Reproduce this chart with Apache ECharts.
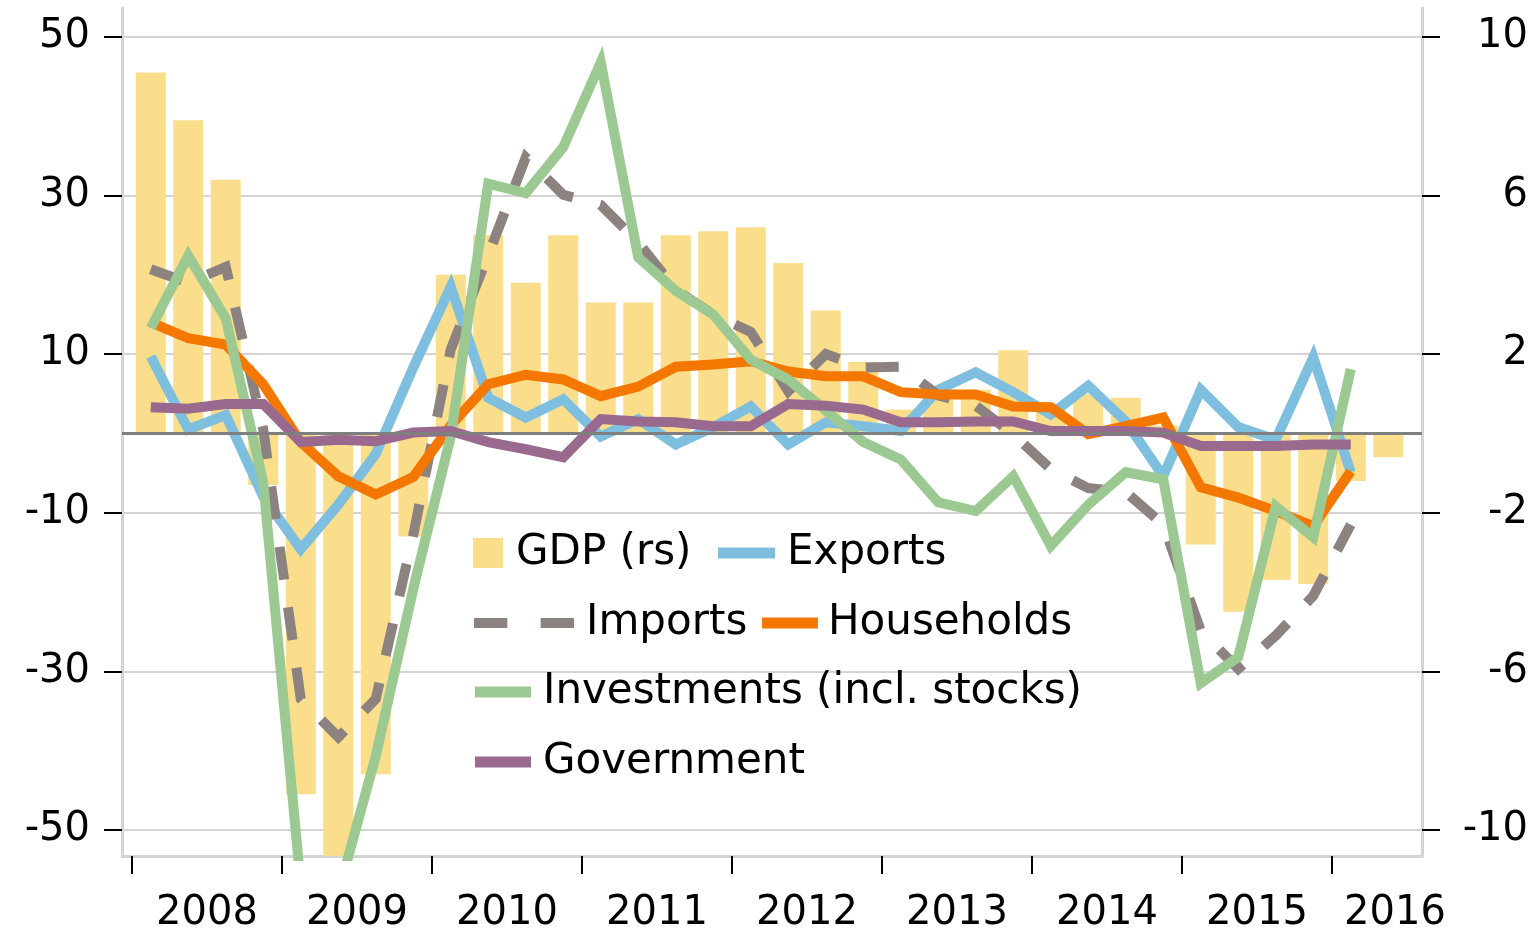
<!DOCTYPE html>
<html>
<head>
<meta charset="utf-8">
<title>GDP components</title>
<script src="https://cdn.jsdelivr.net/npm/echarts@6/dist/echarts.min.js"></script>
<style>
  html, body { margin: 0; padding: 0; background: #fff; }
  #chart { width: 1536px; height: 934px; }
</style>
</head>
<body>
<div id="chart"></div>
<script>
// quarters, 2008Q1 .. 2016Q2
const quarters = [
  "2008Q1","2008Q2","2008Q3","2008Q4","2009Q1","2009Q2","2009Q3","2009Q4",
  "2010Q1","2010Q2","2010Q3","2010Q4","2011Q1","2011Q2","2011Q3","2011Q4",
  "2012Q1","2012Q2","2012Q3","2012Q4","2013Q1","2013Q2","2013Q3","2013Q4",
  "2014Q1","2014Q2","2014Q3","2014Q4","2015Q1","2015Q2","2015Q3","2015Q4",
  "2016Q1","2016Q2"
];
const yearTicks = [2008, 2009, 2010, 2011, 2012, 2013, 2014, 2015, 2016];
const leftTicks = [-50, -30, -10, 10, 30, 50];
const rightTicks = [-10, -6, -2, 2, 6, 10];

// right scale
const gdp = [9.1, 7.9, 6.4, -1.3, -9.1, -11.2, -8.6, -2.6, 4.0, 5.0, 3.8, 5.0, 3.3, 3.3, 5.0, 5.1,
  5.2, 4.3, 3.1, 1.8, 0.6, 1.0, 1.1, 2.1, 0.6, 1.0, 0.9, 0.2, -2.8, -4.5, -3.7, -3.8, -1.2, -0.6];
// left scale (to 2016Q1)
const exportsData = [9.7, 0.5, 2.3, -8.0, -14.6, -9.0, -2.6, 8.3, 18.5, 4.5, 2.0, 4.3, -0.4, 1.8, -1.4, 0.8,
  3.4, -1.4, 1.4, 0.9, 0.3, 5.5, 7.7, 5.2, 2.4, 6.0, 1.5, -5.4, 5.5, 0.8, -0.8, 9.6, -4.9];
const importsData = [20.7, 19.0, 21.0, 0.5, -33.5, -38.3, -33.5, -12.8, 10.6, 22.5, 34.8, 30.1, 28.8, 24.1, 18.1, 15.0,
  12.8, 5.3, 10.0, 8.3, 8.4, 4.8, 3.5, -0.1, -4.5, -6.9, -7.4, -11.5, -24.9, -29.7, -25.5, -20.5, -11.5];
const households = [14.0, 12.0, 11.2, 6.2, -1.1, -5.4, -7.7, -5.5, 1.0, 6.2, 7.4, 6.8, 4.7, 5.9, 8.4, 8.7,
  9.1, 7.8, 7.2, 7.2, 5.2, 4.9, 4.9, 3.4, 3.3, -0.1, 0.9, 2.0, -6.8, -8.1, -9.8, -11.7, -4.8];
const investments = [13.3, 22.4, 14.5, -6.2, -57.0, -58.0, -40.7, -19.6, -0.4, 31.5, 30.3, 36.1, 46.8, 22.2, 18.0, 15.0,
  9.3, 6.8, 2.9, -1.1, -3.3, -8.7, -9.8, -5.4, -14.2, -9.0, -4.9, -5.8, -31.5, -28.2, -9.2, -13.1, 8.1];
const government = [3.3, 3.1, 3.7, 3.7, -1.1, -0.8, -1.0, 0.1, 0.3, -1.1, -2.0, -3.0, 1.8, 1.5, 1.4, 0.9,
  0.9, 3.7, 3.5, 3.0, 1.4, 1.4, 1.5, 1.5, 0.3, 0.3, 0.3, 0.1, -1.6, -1.6, -1.6, -1.4, -1.4];

// quarter label -> position on the year axis (middle of the quarter)
function qPos(q) {
  return +q.slice(0, 4) + (+q.slice(5) - 0.5) / 4;
}
function pairs(values) {
  return values.map((v, i) => [qPos(quarters[i]), v]);
}

const FONT = "'DejaVu Sans', sans-serif";
const AXIS_GREY = "#d4d4d4";

function lineSeries(name, values, color, dashed) {
  return {
    name: name,
    type: "line",
    yAxisIndex: 0,
    data: pairs(values),
    symbol: "none",
    clip: true,
    lineStyle: {
      color: color,
      width: 10,
      join: "miter",
      cap: "butt",
      type: dashed ? [33, 28] : "solid",
    },
    itemStyle: { color: color },
  };
}

function legendItem(name, icon, left, centerY, w, h, gap) {
  return {
    data: [{ name: name, icon: icon }],
    left: left,
    top: centerY - 21,
    padding: 0,
    itemWidth: w,
    itemHeight: h,
    selectedMode: false,
    textStyle: {
      fontFamily: FONT,
      fontSize: 42,
      lineHeight: 42,
      color: "#000",
      padding: [0, 0, 0, gap],
    },
  };
}

const chart = echarts.init(document.getElementById("chart"));
chart.setOption({
  animation: false,
  backgroundColor: "#fff",
  grid: { left: 122, right: 114, top: 8, bottom: 77, containLabel: false },
  legend: [
    legendItem("GDP (rs)", "rect", 473, 553, 30, 30, 8),
    legendItem("Exports", "rect", 718, 553, 57, 11, 7),
    legendItem("Imports", "path://M0,0h33v10h-33z M66,0h33v10h-33z", 474, 623, 100, 11, 7),
    legendItem("Households", "rect", 762, 623, 56, 11, 5),
    legendItem("Investments (incl. stocks)", "rect", 475, 692, 56, 11, 7),
    legendItem("Government", "rect", 475, 762, 56, 11, 7),
  ],
  xAxis: {
    type: "value",
    min: 2008 - 10 / 150,
    max: 2016.6,
    axisLine: { show: true, onZero: false, lineStyle: { color: AXIS_GREY, width: 3 } },
    axisTick: {
      show: true,
      customValues: yearTicks,
      length: 18,
      lineStyle: { color: "#000", width: 2 },
    },
    axisLabel: {
      customValues: yearTicks.map((y) => (y === 2016 ? y + 0.42 : y + 0.5)),
      formatter: (v) => String(Math.floor(v)),
      fontFamily: FONT,
      fontSize: 40,
      color: "#000",
      margin: 38,
    },
    splitLine: { show: false },
  },
  yAxis: [
    {
      type: "value",
      position: "left",
      min: -53.3,
      max: 53.65,
      axisLine: { show: true, lineStyle: { color: AXIS_GREY, width: 3 } },
      axisTick: {
        show: true,
        customValues: leftTicks,
        length: 18,
        lineStyle: { color: "#000", width: 2 },
      },
      axisLabel: {
        customValues: leftTicks,
        fontFamily: FONT,
        fontSize: 40,
        color: "#000",
        margin: 32,
      },
      splitLine: { show: true, lineStyle: { color: AXIS_GREY, width: 2 } },
    },
    {
      type: "value",
      position: "right",
      min: -10.66,
      max: 10.73,
      axisLine: { show: true, lineStyle: { color: AXIS_GREY, width: 3 } },
      axisTick: {
        show: true,
        customValues: rightTicks,
        length: 18,
        lineStyle: { color: "#000", width: 2 },
      },
      axisLabel: {
        customValues: rightTicks,
        fontFamily: FONT,
        fontSize: 40,
        color: "#000",
        align: "right",
        margin: 106,
      },
      splitLine: { show: false },
    },
  ],
  series: [
    {
      name: "GDP (rs)",
      type: "bar",
      yAxisIndex: 1,
      data: pairs(gdp),
      barWidth: 30,
      itemStyle: { color: "#fade8c" },
      markLine: {
        silent: true,
        symbol: ["none", "none"],
        label: { show: false },
        lineStyle: { color: "#7f7f7f", width: 3, type: "solid" },
        data: [{ yAxis: 0 }],
      },
    },
    lineSeries("Exports", exportsData, "#7ebfdf", false),
    lineSeries("Imports", importsData, "#8c8381", true),
    lineSeries("Households", households, "#f47800", false),
    lineSeries("Investments (incl. stocks)", investments, "#9bc991", false),
    lineSeries("Government", government, "#9a6a8e", false),
  ],
});
</script>
</body>
</html>
